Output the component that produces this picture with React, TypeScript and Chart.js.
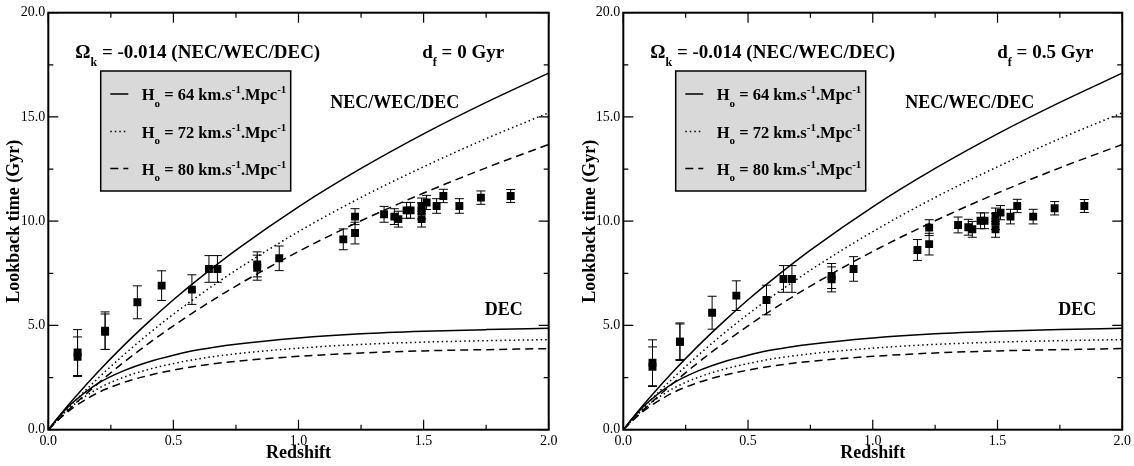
import React, { useEffect, useRef } from "react";
import { Chart, registerables } from "chart.js";

Chart.register(...registerables);

// ---------------- data ----------------
const redshift = [
  0.117, 0.117, 0.227, 0.227, 0.356, 0.453, 0.574, 0.642, 0.676, 0.835, 0.835,
  0.923, 1.179, 1.226, 1.226, 1.342, 1.383, 1.399, 1.432, 1.448, 1.492, 1.492,
  1.492, 1.512, 1.552, 1.579, 1.643, 1.729, 1.848,
];
const lookbackDf0 = [
  3.7, 3.5, 4.75, 4.7, 6.11, 6.91, 6.72, 7.71, 7.71, 7.93, 7.77, 8.22, 9.13,
  10.22, 9.43, 10.33, 10.22, 10.1, 10.52, 10.52, 10.73, 10.49, 10.1, 10.9,
  10.73, 11.21, 10.73, 11.13, 11.21,
];
const lookbackDf05 = [
  3.21, 3.02, 4.22, 4.22, 5.61, 6.43, 6.22, 7.23, 7.23, 7.37, 7.21, 7.71, 8.62,
  9.69, 8.9, 9.82, 9.71, 9.61, 10.02, 10.02, 10.25, 9.98, 9.61, 10.41, 10.22,
  10.73, 10.22, 10.62, 10.73,
];
const lookbackErr = [
  1.1, 0.95, 0.9, 0.85, 0.79, 0.71, 0.71, 0.64, 0.64, 0.6, 0.6, 0.59, 0.5,
  0.38, 0.52, 0.38, 0.38, 0.38, 0.38, 0.38, 0.38, 0.38, 0.38, 0.34, 0.35, 0.32,
  0.35, 0.32, 0.31,
];

const curveZ = [0, 0.05, 0.1, 0.2, 0.3, 0.4, 0.5, 0.6, 0.75, 1.0, 1.25, 1.5, 1.75, 2.0];
const nec64 = [0, 0.75, 1.46, 2.79, 4.02, 5.16, 6.23, 7.22, 8.61, 10.69, 12.53, 14.19, 15.7, 17.1];
const nec72 = [0, 0.67, 1.3, 2.48, 3.57, 4.59, 5.54, 6.42, 7.65, 9.5, 11.14, 12.61, 13.96, 15.2];
const nec80 = [0, 0.6, 1.17, 2.23, 3.22, 4.13, 4.98, 5.78, 6.89, 8.55, 10.02, 11.35, 12.56, 13.68];
const dec64 = [0, 0.72, 1.33, 2.23, 2.82, 3.25, 3.57, 3.83, 4.1, 4.4, 4.6, 4.72, 4.8, 4.86];
const dec72 = [0, 0.64, 1.18, 1.98, 2.51, 2.89, 3.17, 3.4, 3.64, 3.91, 4.09, 4.2, 4.27, 4.32];
const dec80 = [0, 0.58, 1.06, 1.78, 2.26, 2.6, 2.86, 3.06, 3.28, 3.52, 3.68, 3.78, 3.84, 3.89];

const hubbleValues = ["64", "72", "80"];
const omegaText = " = -0.014 (NEC/WEC/DEC)";
const xMin = 0, xMax = 2, xMajor = 0.5, xMinor = 0.25;
const yMin = 0, yMax = 20, yMajor = 5, yMinor = 2.5;

const SERIF = '"Liberation Serif", "Times New Roman", serif';
const SOLID: number[] = [];
const DOTTED = [1.5, 3];
const DASHED = [8, 5];
const dashes = [SOLID, DOTTED, DASHED];

type Seg = { t: string; mode?: "sub" | "sup" };

function drawRich(ctx: CanvasRenderingContext2D, x: number, y: number, segs: Seg[], size: number, align: "left" | "right" = "left") {
  const main = `bold ${size}px ${SERIF}`;
  const small = `bold ${Math.round(size * 0.64)}px ${SERIF}`;
  let total = 0;
  const widths: number[] = [];
  for (const s of segs) {
    ctx.font = s.mode ? small : main;
    const w = ctx.measureText(s.t).width;
    widths.push(w);
    total += w;
  }
  let cx = align === "right" ? x - total : x;
  ctx.textAlign = "left";
  ctx.textBaseline = "alphabetic";
  segs.forEach((s, i) => {
    ctx.font = s.mode ? small : main;
    const dy = s.mode === "sub" ? size * 0.4 : s.mode === "sup" ? -size * 0.42 : 0;
    ctx.fillText(s.t, cx, y + dy);
    cx += widths[i];
  });
}

function makePlugin(ages: number[], dfText: string) {
  return {
    id: "decor",
    beforeDatasetsDraw(chart: any) {
      const ctx: CanvasRenderingContext2D = chart.ctx;
      const xs = chart.scales.x, ys = chart.scales.y;
      ctx.save();
      ctx.strokeStyle = "#000";
      ctx.lineWidth = 1;
      redshift.forEach((z, i) => {
        const px = xs.getPixelForValue(z);
        const hi = ys.getPixelForValue(ages[i] + lookbackErr[i]);
        const lo = ys.getPixelForValue(ages[i] - lookbackErr[i]);
        ctx.beginPath();
        ctx.moveTo(px, hi); ctx.lineTo(px, lo);
        ctx.moveTo(px - 4.5, hi); ctx.lineTo(px + 4.5, hi);
        ctx.moveTo(px - 4.5, lo); ctx.lineTo(px + 4.5, lo);
        ctx.stroke();
      });
      ctx.restore();
    },
    afterDraw(chart: any) {
      const ctx: CanvasRenderingContext2D = chart.ctx;
      const xs = chart.scales.x, ys = chart.scales.y;
      const { left: L, right: R, top: T, bottom: B } = chart.chartArea;
      ctx.save();
      ctx.strokeStyle = "#000";
      ctx.fillStyle = "#000";
      // ticks (inward)
      ctx.lineWidth = 1.2;
      ctx.beginPath();
      for (let v = xMin; v <= xMax + 1e-9; v += xMinor) {
        const px = xs.getPixelForValue(v);
        const major = Math.abs(v / xMajor - Math.round(v / xMajor)) < 1e-6;
        const len = major ? 10 : 5;
        ctx.moveTo(px, B); ctx.lineTo(px, B - len);
        ctx.moveTo(px, T); ctx.lineTo(px, T + len);
      }
      for (let v = yMin; v <= yMax + 1e-9; v += yMinor) {
        const py = ys.getPixelForValue(v);
        const major = Math.abs(v / yMajor - Math.round(v / yMajor)) < 1e-6;
        const len = major ? 10 : 5;
        ctx.moveTo(L, py); ctx.lineTo(L + len, py);
        ctx.moveTo(R, py); ctx.lineTo(R - len, py);
      }
      ctx.stroke();
      // frame
      ctx.lineWidth = 2;
      ctx.strokeRect(L, T, R - L, B - T);

      // annotations
      drawRich(ctx, L + 27, 58, [{ t: "\u03A9" }, { t: "k", mode: "sub" }, { t: omegaText }], 19);
      drawRich(ctx, L + 374, 58, [{ t: "d" }, { t: "f", mode: "sub" }, { t: dfText }], 19);

      // legend box
      ctx.fillStyle = "#d9d9d9";
      ctx.fillRect(L + 52.4, 71, 190, 120);
      ctx.lineWidth = 1.5;
      ctx.strokeRect(L + 52.4, 71, 190, 120);
      ctx.fillStyle = "#000";
      const rowsY = [100, 137.5, 174.5];
      hubbleValues.forEach((h, i) => {
        ctx.save();
        ctx.lineWidth = 1.5;
        ctx.setLineDash(dashes[i]);
        ctx.beginPath();
        ctx.moveTo(L + 62, rowsY[i] - 6);
        ctx.lineTo(L + 80, rowsY[i] - 6);
        ctx.stroke();
        ctx.restore();
        drawRich(ctx, L + 93.4, rowsY[i], [
          { t: "H" }, { t: "o", mode: "sub" }, { t: ` = ${h} km.s` }, { t: "-1", mode: "sup" },
          { t: ".Mpc" }, { t: "-1", mode: "sup" },
        ], 16.5);
      });

      drawRich(ctx, L + 282, 108, [{ t: "NEC/WEC/DEC" }], 18);
      drawRich(ctx, R - 26, 315, [{ t: "DEC" }], 18, "right");
      ctx.restore();
    },
  };
}

function Panel(props: { left: number; width: number; yAxisW: number; padRight: number; yTitlePad: number; ages: number[]; dfText: string }) {
  const ref = useRef<HTMLCanvasElement | null>(null);
  useEffect(() => {
    if (!ref.current) return;
    const lineDs = (vals: number[], dash: number[]) => ({
      type: "line" as const,
      data: curveZ.map((z, i) => ({ x: z, y: vals[i] })),
      borderColor: "#000",
      borderWidth: 1.5,
      borderDash: dash,
      pointRadius: 0,
      cubicInterpolationMode: "monotone" as const,
      fill: false,
    });
    const chart = new Chart(ref.current, {
      type: "line",
      data: {
        datasets: [
          lineDs(nec64, SOLID),
          lineDs(nec72, DOTTED),
          lineDs(nec80, DASHED),
          lineDs(dec64, SOLID),
          lineDs(dec72, DOTTED),
          lineDs(dec80, DASHED),
          {
            type: "scatter" as const,
            data: redshift.map((z, i) => ({ x: z, y: props.ages[i] })),
            pointStyle: "rect",
            pointRadius: 5.6,
            backgroundColor: "#000",
            borderWidth: 0,
            showLine: false,
          } as any,
        ],
      },
      options: {
        responsive: false,
        animation: false,
        events: [],
        layout: { padding: { top: 12.7, right: props.padRight, bottom: 0, left: 0 } },
        plugins: { legend: { display: false }, tooltip: { enabled: false } },
        scales: {
          x: {
            type: "linear",
            min: xMin,
            max: xMax,
            grid: { display: false, drawTicks: false },
            border: { display: false },
            afterFit: (s: any) => { s.height = 36.3; },
            ticks: {
              stepSize: xMajor,
              padding: 3,
              color: "#000",
              font: { family: SERIF, size: 14 },
              callback: (v: any) => Number(v).toFixed(1),
            },
            title: {
              display: true,
              text: "Redshift",
              color: "#000",
              font: { family: SERIF, size: 18, weight: "bold" },
              padding: { top: 0, bottom: 2 },
            },
          },
          y: {
            type: "linear",
            min: yMin,
            max: yMax,
            grid: { display: false, drawTicks: false },
            border: { display: false },
            afterFit: (s: any) => { s.width = props.yAxisW; },
            ticks: {
              stepSize: yMajor,
              padding: 3,
              color: "#000",
              font: { family: SERIF, size: 14 },
              callback: (v: any) => Number(v).toFixed(1),
            },
            title: {
              display: true,
              text: "Lookback time (Gyr)",
              color: "#000",
              font: { family: SERIF, size: 18, weight: "bold" },
              padding: { top: props.yTitlePad, bottom: 0 },
            },
          },
        },
      } as any,
      plugins: [makePlugin(props.ages, props.dfText)],
    });
    return () => chart.destroy();
  }, []);
  return (
    <canvas
      ref={ref}
      width={props.width}
      height={466}
      style={{ position: "absolute", left: props.left, top: 0, width: props.width, height: 466 }}
    />
  );
}

export default function App() {
  return (
    <div style={{ position: "absolute", left: 0, top: 0, width: 1134, height: 466, background: "#fff" }}>
      <Panel left={0} width={567} yAxisW={48.3} padRight={18.3} yTitlePad={3.6} ages={lookbackDf0} dfText=" = 0 Gyr" />
      <Panel left={567} width={567} yAxisW={56.3} padRight={10.5} yTitlePad={12.6} ages={lookbackDf05} dfText=" = 0.5 Gyr" />
    </div>
  );
}
